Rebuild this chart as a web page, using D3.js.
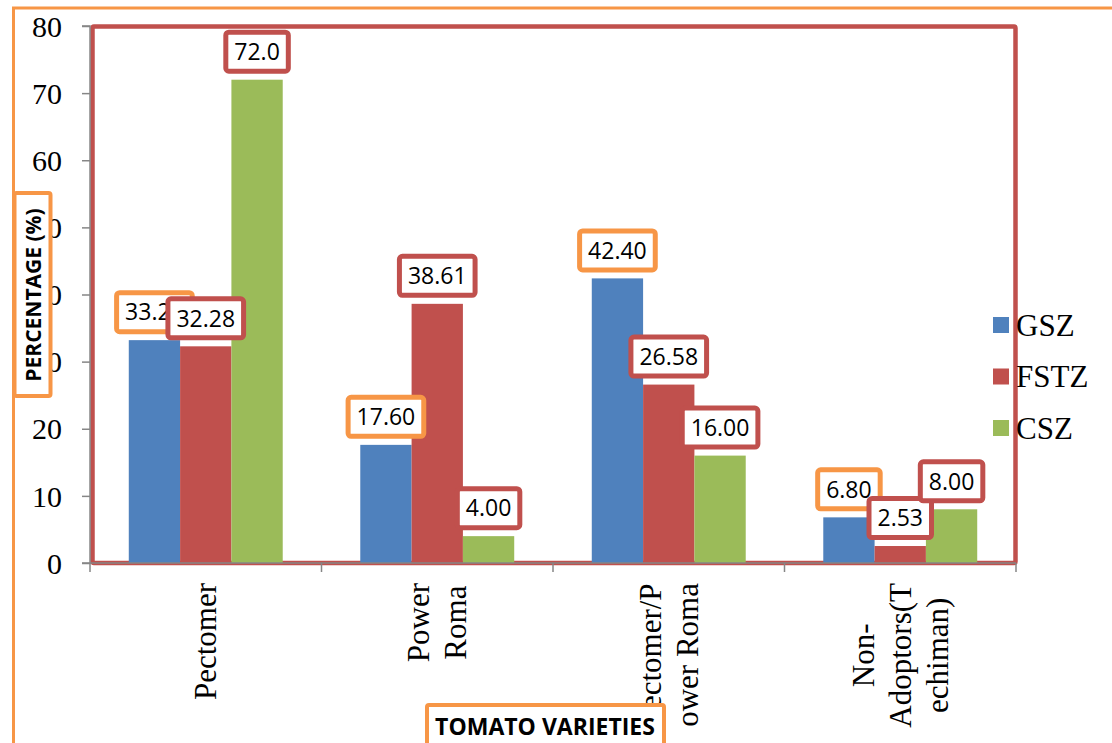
<!DOCTYPE html>
<html>
<head>
<meta charset="utf-8">
<script src="https://cdn.jsdelivr.net/npm/d3@7.9.0/dist/d3.min.js"></script>
<style>
  body { margin: 0; background: #fff; }
  svg { display: block; }
</style>
</head>
<body>
<svg id="chart" width="1112" height="743"></svg>
<script>
// categories, with the line breaks used on the rotated axis labels
const categories = ["Pectomer", "Power Roma", "Pectomer/Power Roma", "Non-Adoptors(Techiman)"];
const categoryLines = [["Pectomer"], ["Power", "Roma"], ["Pectomer/P", "ower Roma"], ["Non-", "Adoptors(T", "echiman)"]];

const seriesNames = ["GSZ", "FSTZ", "CSZ"];
const gsz = [33.20, 17.60, 42.40, 6.80];
const fstz = [32.28, 38.61, 26.58, 2.53];
const csz = [72.0, 4.00, 16.00, 8.00];
const gszLabels = ["33.20", "17.60", "42.40", "6.80"];
const fstzLabels = ["32.28", "38.61", "26.58", "2.53"];
const cszLabels = ["72.0", "4.00", "16.00", "8.00"];
const yTicks = [0, 10, 20, 30, 40, 50, 60, 70, 80];

const barColors = ["#4F81BD", "#C0504D", "#9BBB59"];
const boxColors = ["#F79646", "#C0504D", "#C0504D"];
const orange = "#F79646";
const red = "#C0504D";
const axisGrey = "#868686";

const series = [gsz, fstz, csz];
const seriesLabels = [gszLabels, fstzLabels, cszLabels];

const svg = d3.select("#chart");

const plot = { left: 90, right: 1016, top: 26, bottom: 563 };

const x = d3.scaleBand().domain(categories).range([plot.left, plot.right]).padding(0);
const bw = x.bandwidth();
const groupW = bw * 0.665;
const xs = d3.scaleBand().domain(seriesNames).range([(bw - groupW) / 2, (bw + groupW) / 2]).padding(0);
const y = d3.scaleLinear().domain([0, 80]).range([plot.bottom, plot.top]);

// outer orange frame
svg.append("path")
  .attr("d", "M13.5,743 L13.5,8 L1112,8")
  .attr("fill", "none")
  .attr("stroke", orange)
  .attr("stroke-width", 3);

// red plot frame
svg.append("rect")
  .attr("x", 92.5).attr("y", 26.5)
  .attr("width", 923).attr("height", 536.5)
  .attr("fill", "none")
  .attr("stroke", red)
  .attr("stroke-width", 4.5)
  .attr("rx", 1.5);

// bars
series.forEach((vals, s) => {
  svg.append("g").selectAll("rect")
    .data(vals)
    .join("rect")
    .attr("x", (d, i) => x(categories[i]) + xs(seriesNames[s]))
    .attr("y", d => y(d))
    .attr("width", xs.bandwidth())
    .attr("height", d => y(0) - y(d))
    .attr("fill", barColors[s]);
});

// y axis
const yAxis = svg.append("g")
  .attr("transform", `translate(${plot.left},0)`)
  .call(d3.axisLeft(y).tickValues(yTicks).tickSize(8).tickPadding(20).tickFormat(d3.format("d")));
yAxis.select(".domain").attr("stroke", axisGrey).attr("stroke-width", 1.5)
  .attr("d", `M-8,${plot.top}H0V${plot.bottom}H-8`);
yAxis.selectAll(".tick line").attr("stroke", axisGrey).attr("stroke-width", 1.5);
yAxis.selectAll(".tick text")
  .attr("font-family", "'Liberation Serif', 'Times New Roman', serif")
  .attr("font-size", 30)
  .attr("fill", "#000")
  .attr("dy", "0.34em");

// x axis line with ticks at category boundaries
const bounds = categories.map(c => x(c)).concat([plot.right]);
svg.append("line")
  .attr("x1", plot.left).attr("x2", plot.right)
  .attr("y1", plot.bottom).attr("y2", plot.bottom)
  .attr("stroke", axisGrey).attr("stroke-width", 1.5);
svg.append("g").selectAll("line")
  .data(bounds)
  .join("line")
  .attr("x1", d => d).attr("x2", d => d)
  .attr("y1", plot.bottom).attr("y2", plot.bottom + 9)
  .attr("stroke", axisGrey).attr("stroke-width", 1.5);

// rotated category labels, lines centred, block ending near the axis
const catG = svg.append("g")
  .attr("font-family", "'Liberation Serif', 'Times New Roman', serif")
  .attr("font-size", 31)
  .attr("fill", "#000");
categoryLines.forEach((lines, i) => {
  const cx = x(categories[i]) + bw / 2;
  const lineGap = 37;
  const texts = lines.map((ln, j) => catG.append("text")
    .attr("text-anchor", "middle")
    .attr("dominant-baseline", "central")
    .text(ln));
  const blockLen = d3.max(texts, t => t.node().getComputedTextLength());
  texts.forEach((t, j) => {
    const lx = cx + (j - (lines.length - 1) / 2) * lineGap;
    const ly = 583 + blockLen / 2;
    t.attr("transform", `translate(${lx},${ly}) rotate(-90)`);
  });
});

// data labels in framed boxes
const lblG = svg.append("g");
series.forEach((vals, s) => {
  vals.forEach((v, i) => {
    const cx = x(categories[i]) + xs(seriesNames[s]) + xs.bandwidth() / 2;
    const top = y(v);
    const g = lblG.append("g");
    const rect = g.append("rect");
    const t = g.append("text")
      .attr("font-family", "'Open Sans', sans-serif")
      .attr("font-size", 23)
      .attr("fill", "#000")
      .attr("text-anchor", "middle")
      .attr("x", cx)
      .attr("y", top - 28)
      .attr("dy", "0.36em")
      .text(seriesLabels[s][i]);
    const tw = t.node().getComputedTextLength();
    const w = tw + 17, h = 39;
    rect.attr("x", cx - w / 2)
      .attr("y", top - 8.5 - h)
      .attr("width", w).attr("height", h)
      .attr("rx", 3)
      .attr("fill", "#fff")
      .attr("stroke", boxColors[s])
      .attr("stroke-width", 5);
  });
});

// legend
const legend = svg.append("g");
seriesNames.forEach((name, s) => {
  const ly = 325 + s * 51.5;
  legend.append("rect")
    .attr("x", 993).attr("y", ly - 8)
    .attr("width", 16).attr("height", 16)
    .attr("fill", barColors[s]);
  legend.append("text")
    .attr("x", 1016).attr("y", ly)
    .attr("dy", "0.35em")
    .attr("font-family", "'Liberation Serif', 'Times New Roman', serif")
    .attr("font-size", 31)
    .attr("fill", "#000")
    .text(name);
});

// y axis title box
svg.append("rect")
  .attr("x", 14.5).attr("y", 193)
  .attr("width", 36).attr("height", 203)
  .attr("rx", 2)
  .attr("fill", "#fff")
  .attr("stroke", orange)
  .attr("stroke-width", 4);
svg.append("text")
  .attr("transform", "translate(33,295) rotate(-90)")
  .attr("text-anchor", "middle")
  .attr("dominant-baseline", "central")
  .attr("font-family", "'Open Sans', sans-serif")
  .attr("font-weight", "bold")
  .attr("font-size", 21)
  .attr("fill", "#000")
  .text("PERCENTAGE (%)");

// x axis title box
svg.append("rect")
  .attr("x", 427).attr("y", 705)
  .attr("width", 237).attr("height", 50)
  .attr("rx", 2)
  .attr("fill", "#fff")
  .attr("stroke", orange)
  .attr("stroke-width", 4);
svg.append("text")
  .attr("x", 545).attr("y", 735)
  .attr("text-anchor", "middle")
  .attr("font-family", "'Open Sans', sans-serif")
  .attr("font-weight", "bold")
  .attr("font-size", 23)
  .attr("fill", "#000")
  .text("TOMATO VARIETIES");
</script>
</body>
</html>
